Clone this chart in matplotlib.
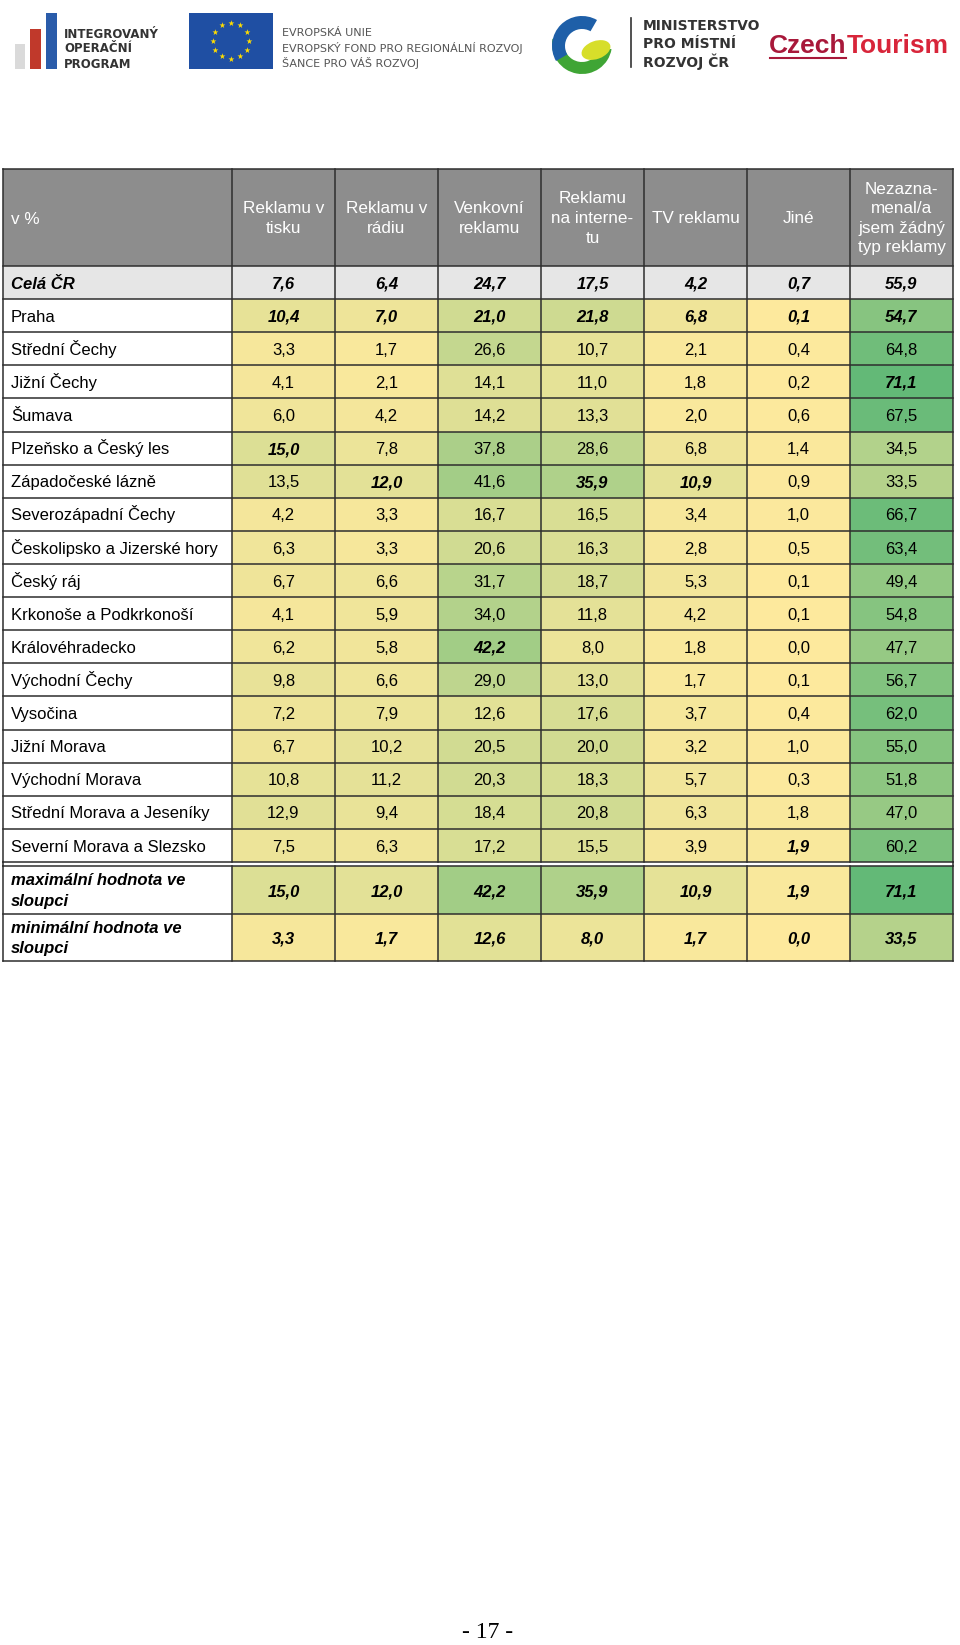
import numpy as np
import matplotlib
matplotlib.use("Agg")
import matplotlib.pyplot as plt
from matplotlib.patches import Rectangle, Wedge, Ellipse
from matplotlib.colors import LinearSegmentedColormap, Normalize

# data
headers = ["Reklamu v\ntisku", "Reklamu v\nrádiu", "Venkovní\nreklamu",
           "Reklamu\nna interne-\ntu", "TV reklamu", "Jiné",
           "Nezazna-\nmenal/a\njsem žádný\ntyp reklamy"]
total_label = "Celá ČR"
total = [7.6, 6.4, 24.7, 17.5, 4.2, 0.7, 55.9]
regions = ["Praha", "Střední Čechy", "Jižní Čechy", "Šumava", "Plzeňsko a Český les",
           "Západočeské lázně", "Severozápadní Čechy", "Českolipsko a Jizerské hory",
           "Český ráj", "Krkonoše a Podkrkonoší", "Královéhradecko", "Východní Čechy",
           "Vysočina", "Jižní Morava", "Východní Morava", "Střední Morava a Jeseníky",
           "Severní Morava a Slezsko"]
tisk = [10.4, 3.3, 4.1, 6.0, 15.0, 13.5, 4.2, 6.3, 6.7, 4.1, 6.2, 9.8, 7.2, 6.7, 10.8, 12.9, 7.5]
radio = [7.0, 1.7, 2.1, 4.2, 7.8, 12.0, 3.3, 3.3, 6.6, 5.9, 5.8, 6.6, 7.9, 10.2, 11.2, 9.4, 6.3]
venkovni = [21.0, 26.6, 14.1, 14.2, 37.8, 41.6, 16.7, 20.6, 31.7, 34.0, 42.2, 29.0, 12.6, 20.5, 20.3, 18.4, 17.2]
internet = [21.8, 10.7, 11.0, 13.3, 28.6, 35.9, 16.5, 16.3, 18.7, 11.8, 8.0, 13.0, 17.6, 20.0, 18.3, 20.8, 15.5]
tv = [6.8, 2.1, 1.8, 2.0, 6.8, 10.9, 3.4, 2.8, 5.3, 4.2, 1.8, 1.7, 3.7, 3.2, 5.7, 6.3, 3.9]
jine = [0.1, 0.4, 0.2, 0.6, 1.4, 0.9, 1.0, 0.5, 0.1, 0.1, 0.0, 0.1, 0.4, 1.0, 0.3, 1.8, 1.9]
nezazn = [54.7, 64.8, 71.1, 67.5, 34.5, 33.5, 66.7, 63.4, 49.4, 54.8, 47.7, 56.7, 62.0, 55.0, 51.8, 47.0, 60.2]
stat_labels = ["maximální hodnota ve\nsloupci", "minimální hodnota ve\nsloupci"]
bold_rows = ["Praha"]

vals = np.array([tisk, radio, venkovni, internet, tv, jine, nezazn]).T
stats = np.array([vals.max(axis=0), vals.min(axis=0)])


def fmt(v):
    return f"{v:.1f}".replace(".", ",")


# layout (pixels)
W, H = 960, 1645
col_edges = np.array([3, 232, 335, 438, 541, 644, 747, 850, 953])
head_top, head_bot = 169, 266
row_h = (862 - head_bot) / 18
data_edges = head_bot + row_h * np.arange(19)
stat_edges = np.array([866, 914, 961])
line_c = "#2e2e2e"
fs = 12
base_off = 0.365 * fs * 100 / 72  # half cap height in px

fig = plt.figure(figsize=(W / 100, H / 100), dpi=100)
ax = fig.add_axes([0, 0, 1, 1])
ax.set_xlim(0, W)
ax.set_ylim(H, 0)
ax.axis("off")

sans = ["Liberation Sans", "DejaVu Sans"]
cmap = LinearSegmentedColormap.from_list("yg", ["#FDE99D", "#63B977"])
norm = Normalize(0, stats.max())

# header
ax.add_patch(Rectangle((col_edges[0], head_top), col_edges[-1] - col_edges[0],
                       head_bot - head_top, fc="#8D8D8D", ec="none"))
hc = (head_top + head_bot) / 2
ax.text(col_edges[0] + 8, hc + 0.37 * 12.3 * 100 / 72, "v %", ha="left", va="baseline",
        color="white", fontsize=12.3, family=sans)
for j, h in enumerate(headers):
    xc = (col_edges[j + 1] + col_edges[j + 2]) / 2
    ax.text(xc, hc + 1, h, ha="center", va="center", color="white", fontsize=12.3,
            family=sans, linespacing=1.38)

# total row
ax.add_patch(Rectangle((col_edges[0], data_edges[0]), col_edges[-1] - col_edges[0],
                       row_h, fc="#E6E6E6", ec="none"))

# coloured cells
ax.pcolormesh(col_edges[1:], data_edges[1:], vals, cmap=cmap, norm=norm)
ax.pcolormesh(col_edges[1:], stat_edges, stats, cmap=cmap, norm=norm)


# texts
def row_text(y0, y1, label, numbers, bold_flags, label_bold, multiline=False):
    yc = (y0 + y1) / 2
    if multiline:
        ax.text(col_edges[0] + 8, yc + 1, label, ha="left", va="center", fontsize=fs,
                family=sans, fontweight="bold", fontstyle="italic", linespacing=1.42)
    else:
        ax.text(col_edges[0] + 8, yc + base_off, label, ha="left", va="baseline",
                fontsize=fs, family=sans,
                fontweight="bold" if label_bold else "normal",
                fontstyle="italic" if label_bold else "normal")
    for j, v in enumerate(numbers):
        xc = (col_edges[j + 1] + col_edges[j + 2]) / 2
        b = bold_flags[j]
        ax.text(xc, yc + base_off, fmt(v), ha="center", va="baseline", fontsize=fs,
                family=sans, fontweight="bold" if b else "normal",
                fontstyle="italic" if b else "normal")


row_text(data_edges[0], data_edges[1], total_label, total, [True] * 7, True)
colmax = vals.max(axis=0)
for i, r in enumerate(regions):
    flags = [(r in bold_rows) or (vals[i, j] == colmax[j]) for j in range(7)]
    row_text(data_edges[i + 1], data_edges[i + 2], r, vals[i], flags, False)
for k in range(2):
    row_text(stat_edges[k], stat_edges[k + 1], stat_labels[k], stats[k], [True] * 7,
             True, multiline=True)

# grid lines
for y in data_edges:
    ax.plot([col_edges[0], col_edges[-1]], [y, y], color=line_c, lw=1.1)
ax.plot([col_edges[0], col_edges[-1]], [head_top, head_top], color=line_c, lw=1.1)
for y in stat_edges:
    ax.plot([col_edges[0], col_edges[-1]], [y, y], color=line_c, lw=1.1)
for x in col_edges:
    ax.plot([x, x], [head_top, data_edges[-1]], color=line_c, lw=1.1)
    ax.plot([x, x], [stat_edges[0], stat_edges[-1]], color=line_c, lw=1.1)
for x in (col_edges[0], col_edges[-1]):
    ax.plot([x, x], [data_edges[-1], stat_edges[0]], color=line_c, lw=1.1)

# logos
# IOP
ax.add_patch(Rectangle((15, 44), 10, 25, fc="#DADADA", ec="none"))
ax.add_patch(Rectangle((30, 29), 11, 40, fc="#C0392B", ec="none"))
ax.add_patch(Rectangle((46, 13), 11, 56, fc="#2A5CAA", ec="none"))
for k, t in enumerate(["INTEGROVANÝ", "OPERAČNÍ", "PROGRAM"]):
    ax.text(64, 34 + k * 15, t, ha="left", va="center", fontsize=8.5,
            fontweight="bold", color="#333333", family=["DejaVu Sans"])
# EU flag
ax.add_patch(Rectangle((189, 13), 84, 56, fc="#1F4FA3", ec="none"))
for a in np.linspace(0, 2 * np.pi, 12, endpoint=False):
    ax.text(231 + 18 * np.cos(a), 41 + 18 * np.sin(a), "★", ha="center", va="center",
            fontsize=5.5, color="#FFDD00", family=["DejaVu Sans"])
for k, t in enumerate(["EVROPSKÁ UNIE", "EVROPSKÝ FOND PRO REGIONÁLNÍ ROZVOJ",
                       "ŠANCE PRO VÁŠ ROZVOJ"]):
    ax.text(282, 33 + k * 15, t, ha="left", va="center", fontsize=8,
            color="#555555", family=["Liberation Sans Narrow", "DejaVu Sans"])
# MMR
ax.add_patch(Wedge((582, 44), 30, 10, 190, width=12, fc="#3FA535", ec="none"))
ax.add_patch(Wedge((582, 46), 30, 150, 300, width=13, fc="#1E5FA8", ec="none"))
ax.add_patch(Ellipse((596, 50), 30, 18, angle=-20, fc="#D7DE2A", ec="none"))
ax.plot([631, 631], [18, 67], color="#333333", lw=1.2)
for k, t in enumerate(["MINISTERSTVO", "PRO MÍSTNÍ", "ROZVOJ ČR"]):
    ax.text(643, 26 + k * 18, t, ha="left", va="center", fontsize=10,
            fontweight="bold", color="#333333",
            family=["Liberation Sans Narrow", "DejaVu Sans"])
# CzechTourism
tc = ax.text(769, 46, "Czech", ha="left", va="center", fontsize=19, fontweight="bold",
             color="#A8183A", family=sans)
ax.annotate("Tourism", xy=(1, 0.5), xycoords=tc, ha="left", va="center",
            fontsize=19, fontweight="bold", color="#D8253A", family=sans)
ax.plot([770, 846], [58, 58], color="#A8183A", lw=1.5)

# page number
ax.text(488, 1633, "- 17 -", ha="center", va="center", fontsize=17,
        family=["Liberation Serif", "DejaVu Serif"])

fig.savefig("out.png", dpi=100, facecolor="white")
